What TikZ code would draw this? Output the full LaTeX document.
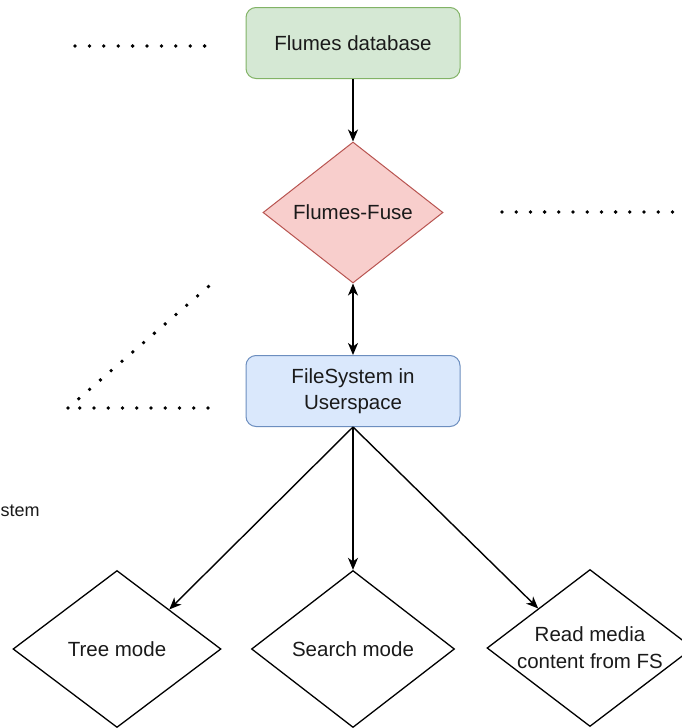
\documentclass[tikz,border=0pt]{standalone}
\usepackage{fontspec}
\setmainfont{Liberation Sans}
\usetikzlibrary{shapes.geometric,arrows.meta}
\definecolor{gfill}{HTML}{D5E8D4}
\definecolor{gline}{HTML}{82B366}
\definecolor{rfill}{HTML}{F8CECC}
\definecolor{rline}{HTML}{B85450}
\definecolor{bfill}{HTML}{DAE8FC}
\definecolor{bline}{HTML}{6C8EBF}
\definecolor{txt}{HTML}{1A1A1A}
\begin{document}
\begin{tikzpicture}[x=1pt,y=-1pt,
  box/.style={draw, rounded corners=10pt, line width=1pt, minimum width=214pt,
    minimum height=71pt, inner sep=0pt, align=center,
    font=\fontsize{20.5}{26}\selectfont, text=txt},
  dia/.style={diamond, draw, line width=1.3pt, inner sep=0pt, align=center,
    font=\fontsize{20.5}{27}\selectfont, text=txt},
  lbl/.style={align=center, inner sep=0pt, font=\fontsize{20.5}{27}\selectfont, text=txt},
  arr/.style={draw=black, line width=1.4pt, -{Stealth[length=12pt,width=10pt,inset=3.5pt]}},
  arrboth/.style={draw=black, line width=1.4pt,
    {Stealth[length=12pt,width=10pt,inset=3.5pt]}-{Stealth[length=12pt,width=10pt,inset=3.5pt]}},
  dots/.style={draw=black, line width=3.8pt, line cap=round, dash pattern=on 0pt off #1}
]
\useasboundingbox (0,0) rectangle (681,728);
\fill[white] (0,0) rectangle (681,728);

% main nodes
\node[box, fill=gfill, draw=gline] (db) at (353,43) {Flumes database};
\node[dia, fill=rfill, draw=rline, line width=1pt, minimum width=180pt, minimum height=141pt] (fuse) at (353,212.5) {Flumes-Fuse};
\node[box, fill=bfill, draw=bline] (fs) at (353,391) {FileSystem in\\Userspace};

\node[dia, fill=white, minimum width=208pt, minimum height=157pt] (tree) at (117,649) {Tree mode};
\node[dia, fill=white, minimum width=203pt, minimum height=157pt] (search) at (353,649) {Search mode};
\node[dia, fill=white, minimum width=206pt, minimum height=157pt] (read) at (590,648) {};
\node[lbl] (readtxt) at (read.center) {Read media\\content from FS};

% connectors
\draw[arr] (db.south) -- (fuse.north);
\draw[arrboth] (fuse.south) -- (fs.north);
\draw[arr] (fs.south) -- (tree.north east);
\draw[arr] (fs.south) -- (search.north);
\draw[arr] (fs.south) -- (read.north west);

% dotted lines
\coordinate (d1a) at (75,46);
\coordinate (d1b) at (205.5,46);
\coordinate (d2a) at (502,212);
\coordinate (d2b) at (673.5,212);
\coordinate (d3a) at (208,408);
\coordinate (d3b) at (79,408);
\coordinate (d4a) at (68,408);
\coordinate (d4b) at (209,286);
\draw[dots=14.4pt] (d1a) -- (d1b);
\draw[dots=14.2pt] (d2a) -- (d2b);
\draw[dots=14.25pt] (d3a) -- (d3b);
\draw[dots=14.28pt] (d4a) -- (d4b);

% cropped label at left edge
\node[anchor=base west, inner sep=0pt, font=\fontsize{18}{22}\selectfont, text=txt] (stem) at (0.5,516) {stem};
\end{tikzpicture}
\end{document}
